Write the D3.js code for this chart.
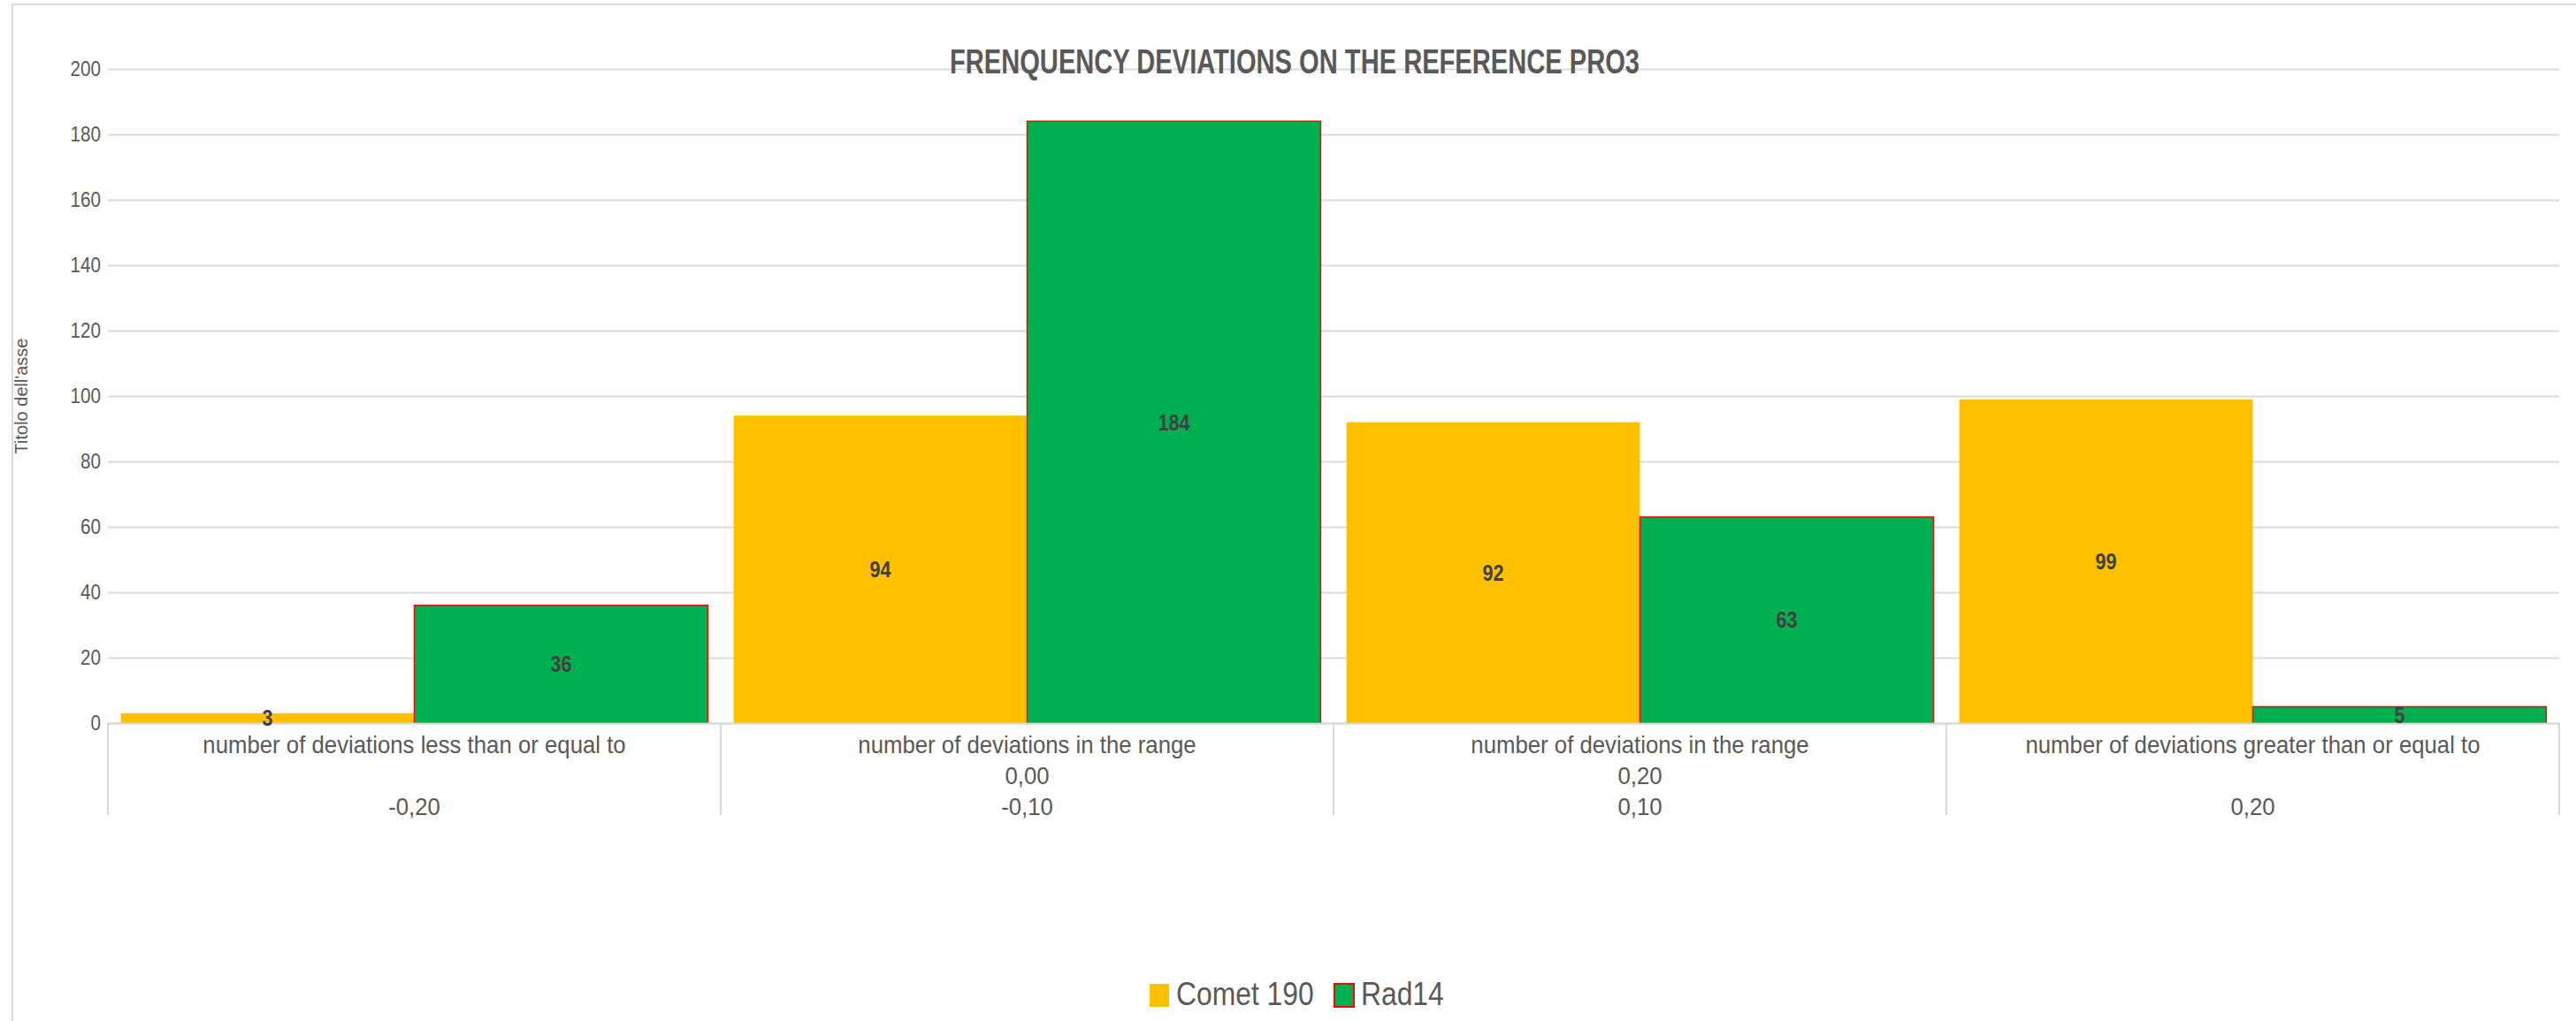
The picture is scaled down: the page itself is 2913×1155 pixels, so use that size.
<!DOCTYPE html>
<html>
<head>
<meta charset="utf-8">
<script src="https://cdn.jsdelivr.net/npm/d3@7"></script>
<style>
	html, body { margin: 0; padding: 0; background: #fff; }
	svg { display: block; font-family: "Liberation Sans", Arial, sans-serif; }
</style>
</head>
<body>
<svg id="chart" width="2913" height="1155"></svg>
<script>
// category labels, one array of lines per category (empty string = blank line)
const categoryLines = [
	["number of deviations less than or equal to", "", "-0,20"],
	["number of deviations in the range", "0,00", "-0,10"],
	["number of deviations in the range", "0,20", "0,10"],
	["number of deviations greater than or equal to", "", "0,20"]
];
const seriesNames = ["Comet 190", "Rad14"];
const comet190 = [3, 94, 92, 99];
const rad14 = [36, 184, 63, 5];
const yTicks = [0, 20, 40, 60, 80, 100, 120, 140, 160, 180, 200];
const titleText = "FRENQUENCY DEVIATIONS ON THE REFERENCE PRO3";
const yTitle = "Titolo dell'asse";

const Width = 2913;
const Height = 1155;
const plotLeft = 122, plotRight = 2894, plotTop = 78, plotBottom = 818;
const K = 0.86; // the source picture is squashed horizontally
const textColor = "#595959";
const gridColor = "#d9d9d9";
const fills = ["#FFC000", "#00B050"];
const strokes = ["none", "#FF0000"];

const svg = d3.select("#chart");

// squeeze text horizontally so it looks like the narrow original
function squeeze(sel, k) {
	sel.each(function() {
		const w = this.getComputedTextLength();
		if (w > 0) d3.select(this).attr("textLength", w * k).attr("lengthAdjust", "spacingAndGlyphs");
	});
}

// chart area border (right and bottom fall off the picture)
svg.append("rect").attr("x", 14).attr("y", 5).attr("width", Width + 20).attr("height", Height + 20)
	.attr("fill", "#fff").attr("stroke", gridColor).attr("stroke-width", 2);

const y = d3.scaleLinear().domain([0, 200]).range([plotBottom, plotTop]);
const cats = categoryLines.map((d, i) => i);
const x0 = d3.scaleBand().domain(cats).range([plotLeft, plotRight]).paddingInner(0).paddingOuter(0);
const x1 = d3.scaleBand().domain(seriesNames).range([0, x0.bandwidth()]).paddingInner(0).paddingOuter(0.044);

// gridlines + y labels
const yaxis = svg.append("g").attr("transform", `translate(${plotLeft},0)`)
	.call(d3.axisLeft(y).tickValues(yTicks).tickSize(plotLeft - plotRight).tickPadding(8));
yaxis.select(".domain").remove();
yaxis.selectAll(".tick line").attr("stroke", gridColor).attr("stroke-width", 2);
yaxis.selectAll(".tick text").attr("fill", textColor).attr("font-size", 24).attr("font-family", null);
squeeze(yaxis.selectAll(".tick text"), K);

// bars
const series = [comet190, rad14];
const groups = svg.append("g").selectAll("g").data(series).join("g");
groups.each(function(vals, s) {
	const g = d3.select(this);
	g.selectAll("rect").data(vals).join("rect")
		.attr("x", (d, i) => x0(i) + x1(seriesNames[s]))
		.attr("y", d => y(d))
		.attr("width", x1.bandwidth())
		.attr("height", d => y(0) - y(d))
		.attr("fill", fills[s])
		.attr("stroke", strokes[s])
		.attr("stroke-width", 1.5);
});

// x axis line and category separators
const xaxis = svg.append("g").attr("transform", `translate(0,${plotBottom})`)
	.call(d3.axisBottom(x0).tickSize(0).tickFormat(""));
xaxis.select(".domain").attr("stroke", gridColor).attr("stroke-width", 2);
xaxis.selectAll(".tick text").remove();
const edges = cats.map(c => x0(c)).concat([plotRight]);
svg.append("g").selectAll("line").data(edges).join("line")
	.attr("x1", d => d).attr("x2", d => d).attr("y1", plotBottom).attr("y2", 922)
	.attr("stroke", gridColor).attr("stroke-width", 2);

// category labels, one text per line
xaxis.selectAll(".tick").each(function(c) {
	const t = d3.select(this);
	categoryLines[c].forEach((line, j) => {
		if (!line) return;
		t.append("text").attr("x", 0).attr("y", 24 + j * 35)
			.attr("fill", textColor).attr("font-size", 28).attr("text-anchor", "middle")
			.attr("dominant-baseline", "central").text(line);
	});
});
squeeze(xaxis.selectAll(".tick text"), 0.92);

// data labels
const labels = svg.append("g");
series.forEach((vals, s) => {
	labels.selectAll(null).data(vals).join("text")
		.attr("x", (d, i) => x0(i) + x1(seriesNames[s]) + x1.bandwidth() / 2)
		.attr("y", d => (y(0) + y(d)) / 2)
		.attr("text-anchor", "middle").attr("dominant-baseline", "central")
		.attr("font-size", 25).attr("font-weight", "bold").attr("fill", "#404040")
		.text(d => d);
});
squeeze(labels.selectAll("text"), K);

// title
svg.append("text").attr("x", 1464).attr("y", 83).attr("text-anchor", "middle")
	.attr("font-size", 38).attr("font-weight", "bold").attr("fill", textColor)
	.attr("textLength", 780).attr("lengthAdjust", "spacingAndGlyphs")
	.text(titleText);

// y axis title
svg.append("text").attr("transform", `translate(31,${(plotTop + plotBottom) / 2}) rotate(-90)`)
	.attr("text-anchor", "middle").attr("font-size", 20).attr("fill", textColor)
	.text(yTitle);

// legend
const legend = svg.append("g");
const legendX = [1300, 1509];
seriesNames.forEach((name, s) => {
	legend.append("rect").attr("x", legendX[s]).attr("y", 1113).attr("width", 22).attr("height", 26)
		.attr("fill", fills[s]).attr("stroke", strokes[s]).attr("stroke-width", 2);
	legend.append("text").attr("x", legendX[s] + 30).attr("y", 1137)
		.attr("font-size", 37).attr("fill", textColor).text(name);
});
squeeze(legend.selectAll("text"), K);
</script>
</body>
</html>
